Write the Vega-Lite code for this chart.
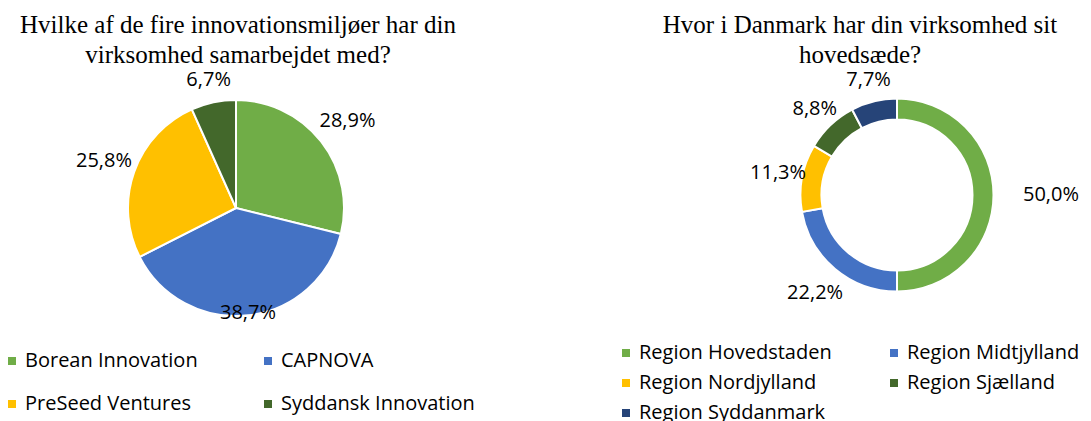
{
  "$schema": "https://vega.github.io/schema/vega-lite/v6.json",
  "background": "white",
  "padding": {"top": 12, "left": 0, "right": 0, "bottom": 0},
  "bounds": "flush",
  "spacing": 231,
  "resolve": {"scale": {"color": "independent", "theta": "independent", "radius": "independent"}, "legend": {"color": "independent"}},
  "config": {
    "view": {"stroke": null},
    "font": "Open Sans",
    "title": {"font": "Liberation Serif", "fontSize": 25, "fontWeight": "normal", "color": "#000000", "lineHeight": 30, "anchor": "middle", "offset": 2, "frame": "group"},
    "legend": {"orient": "none", "direction": "horizontal", "columns": 2, "symbolType": "square", "symbolSize": 64, "symbolStrokeWidth": 0, "labelFont": "Open Sans", "labelFontSize": 20, "labelColor": "#000000", "labelLimit": 400, "labelOffset": 3, "title": null, "padding": 0}
  },
  "hconcat": [
    {
      "width": 472,
      "height": 256,
      "title": {"text": ["Hvilke af de fire innovationsmiljøer har din", "virksomhed samarbejdet med?"], "dx": 2},
      "data": {"values": [
        {"label": "Borean Innovation", "value": 28.9, "pct": "28,9%"},
        {"label": "CAPNOVA", "value": 38.7, "pct": "38,7%"},
        {"label": "PreSeed Ventures", "value": 25.8, "pct": "25,8%"},
        {"label": "Syddansk Innovation", "value": 6.7, "pct": "6,7%"}
      ]},
      "encoding": {
        "theta": {"field": "value", "type": "quantitative", "stack": true},
        "order": {"field": "label", "type": "nominal", "sort": "ascending"}
      },
      "layer": [
        {
          "mark": {"type": "arc", "outerRadius": 108, "stroke": "white", "strokeWidth": 2},
          "encoding": {
            "color": {"field": "label", "type": "nominal",
              "scale": {"domain": ["Borean Innovation", "CAPNOVA", "PreSeed Ventures", "Syddansk Innovation"], "range": ["#70AD47", "#4472C4", "#FFC000", "#43682B"]},
              "legend": {"legendX": 2, "legendY": 271, "columnPadding": 60, "rowPadding": 23}}
          }
        },
        {
          "mark": {"type": "text", "fontSize": 20, "font": "Open Sans", "color": "#000000"},
          "encoding": {
            "radius": {"field": "value", "type": "quantitative", "scale": {"domain": [0, 30, 38.7], "range": [128, 142, 106], "zero": false}},
            "text": {"field": "pct"}
          }
        }
      ]
    },
    {
      "width": 388,
      "height": 230,
      "title": {"text": ["Hvor i Danmark har din virksomhed sit", "hovedsæde?"], "dx": -37},
      "data": {"values": [
        {"label": "Region Hovedstaden", "value": 50.0, "pct": "50,0%"},
        {"label": "Region Midtjylland", "value": 22.2, "pct": "22,2%"},
        {"label": "Region Nordjylland", "value": 11.3, "pct": "11,3%"},
        {"label": "Region Sjælland", "value": 8.8, "pct": "8,8%"},
        {"label": "Region Syddanmark", "value": 7.7, "pct": "7,7%"}
      ]},
      "encoding": {
        "theta": {"field": "value", "type": "quantitative", "stack": true},
        "order": {"field": "label", "type": "nominal", "sort": "ascending"}
      },
      "layer": [
        {
          "mark": {"type": "arc", "outerRadius": 96.5, "innerRadius": 75.5, "stroke": "white", "strokeWidth": 2},
          "encoding": {
            "color": {"field": "label", "type": "nominal",
              "scale": {"domain": ["Region Hovedstaden", "Region Midtjylland", "Region Nordjylland", "Region Sjælland", "Region Syddanmark"], "range": ["#70AD47", "#4472C4", "#FFC000", "#43682B", "#264478"]},
              "legend": {"legendX": -87, "legendY": 263, "columnPadding": 52, "rowPadding": 10}}
          }
        },
        {
          "mark": {"type": "text", "fontSize": 20, "font": "Open Sans", "color": "#000000"},
          "encoding": {
            "radius": {"field": "value", "type": "quantitative", "scale": {"domain": [0, 23, 50], "range": [114, 128, 154], "zero": false}},
            "text": {"field": "pct"}
          }
        }
      ]
    }
  ]
}
